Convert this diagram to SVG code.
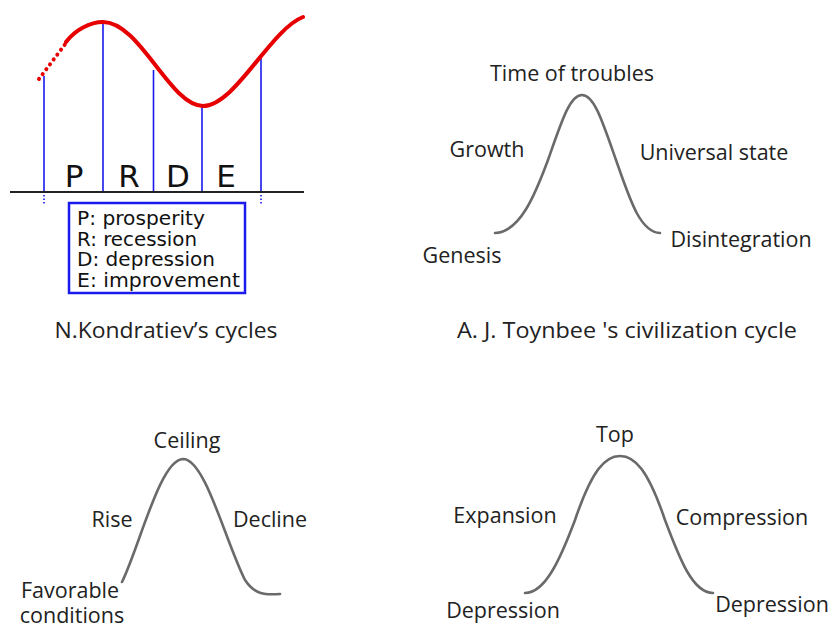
<svg xmlns="http://www.w3.org/2000/svg" width="837" height="628" viewBox="0 0 837 628">
<style>
.lbl{font-family:"Open Sans","Liberation Sans",sans-serif;font-size:21.5px;fill:#222;text-anchor:middle}
.ttl{font-family:"Open Sans","Liberation Sans",sans-serif;font-size:21px;fill:#222;text-anchor:middle}
.dv{font-family:"DejaVu Sans",sans-serif;fill:#111}
.curve{fill:none;stroke:#6a6a6a;stroke-width:2.6;stroke-linecap:round}
.blue{stroke:#1a1aee;stroke-width:1.6;fill:none}
</style>
<rect width="837" height="628" fill="#fff"/>

<g id="kondratiev">
  <g id="k-connectors">
    <line class="blue" x1="44" y1="76" x2="44" y2="192"/>
    <line class="blue" x1="103" y1="22" x2="103" y2="192"/>
    <line class="blue" x1="153.5" y1="70" x2="153.5" y2="192"/>
    <line class="blue" x1="202" y1="106" x2="202" y2="192"/>
    <line class="blue" x1="261" y1="56" x2="261" y2="192"/>
    <line class="blue" x1="44" y1="195" x2="44" y2="204" stroke-dasharray="1.5 2"/>
    <line class="blue" x1="261" y1="195" x2="261" y2="204" stroke-dasharray="1.5 2"/>
    <line x1="10" y1="192" x2="304" y2="192" stroke="#222" stroke-width="2"/>
    <path d="M39,79 L66,43" stroke="#e60000" stroke-width="4" stroke-linecap="round" stroke-dasharray="0.1 6" fill="none"/>
    <path d="M66,42 C75,30 90,22 103,22 C140,22 170,106 203,106 C235,106 270,30 303,17" stroke="#e60000" stroke-width="4" fill="none" stroke-linecap="round"/>
  </g>
  <text class="dv" x="74" y="187" font-size="31" text-anchor="middle">P</text>
  <text class="dv" x="129" y="187" font-size="31" text-anchor="middle">R</text>
  <text class="dv" x="178" y="187" font-size="31" text-anchor="middle">D</text>
  <text class="dv" x="226" y="187" font-size="31" text-anchor="middle">E</text>
  <g id="legend">
    <rect x="69" y="203" width="176" height="90" fill="#fff" stroke="#1a1aee" stroke-width="2.5"/>
    <text class="dv" x="77" y="225" font-size="19" textLength="128" lengthAdjust="spacingAndGlyphs">P: prosperity</text>
    <text class="dv" x="77" y="246" font-size="19" textLength="120" lengthAdjust="spacingAndGlyphs">R: recession</text>
    <text class="dv" x="77" y="266" font-size="19" textLength="138" lengthAdjust="spacingAndGlyphs">D: depression</text>
    <text class="dv" x="77" y="287" font-size="19" textLength="163" lengthAdjust="spacingAndGlyphs">E: improvement</text>
  </g>
  <text class="ttl" x="166" y="338" textLength="223" lengthAdjust="spacingAndGlyphs">N.Kondratiev’s cycles</text>
</g>

<g id="toynbee">
  <path class="curve" d="M495,233 C520,232 535,195 548,160 C562,120 570,95 582,95 C594,95 602,120 616,160 C630,200 640,232 660,233"/>
  <text class="lbl" x="572" y="81">Time of troubles</text>
  <text class="lbl" x="487" y="157">Growth</text>
  <text class="lbl" x="714" y="160">Universal state</text>
  <text class="lbl" x="462" y="263">Genesis</text>
  <text class="lbl" x="741" y="247">Disintegration</text>
  <text class="ttl" x="627" y="338" textLength="340" lengthAdjust="spacingAndGlyphs">A. J. Toynbee 's civilization cycle</text>
</g>

<g id="cycle3">
  <path class="curve" d="M122,582 C140,545 160,460 183,459 C205,459 225,540 245,580 C255,595 265,595 280,594"/>
  <text class="lbl" x="187" y="448">Ceiling</text>
  <text class="lbl" x="112" y="527">Rise</text>
  <text class="lbl" x="270" y="527">Decline</text>
  <text class="lbl" font-size="19.5px"><tspan x="70" y="598">Favorable</tspan><tspan x="72" y="623">conditions</tspan></text>
</g>

<g id="cycle4">
  <path class="curve" d="M525,593 C545,593 560,560 575,520 C592,470 605,456 620,456 C635,456 648,470 665,520 C680,560 693,593 713,593"/>
  <text class="lbl" x="615" y="442">Top</text>
  <text class="lbl" x="505" y="523">Expansion</text>
  <text class="lbl" x="742" y="525">Compression</text>
  <text class="lbl" x="503" y="618">Depression</text>
  <text class="lbl" x="772" y="612">Depression</text>
</g>
</svg>
